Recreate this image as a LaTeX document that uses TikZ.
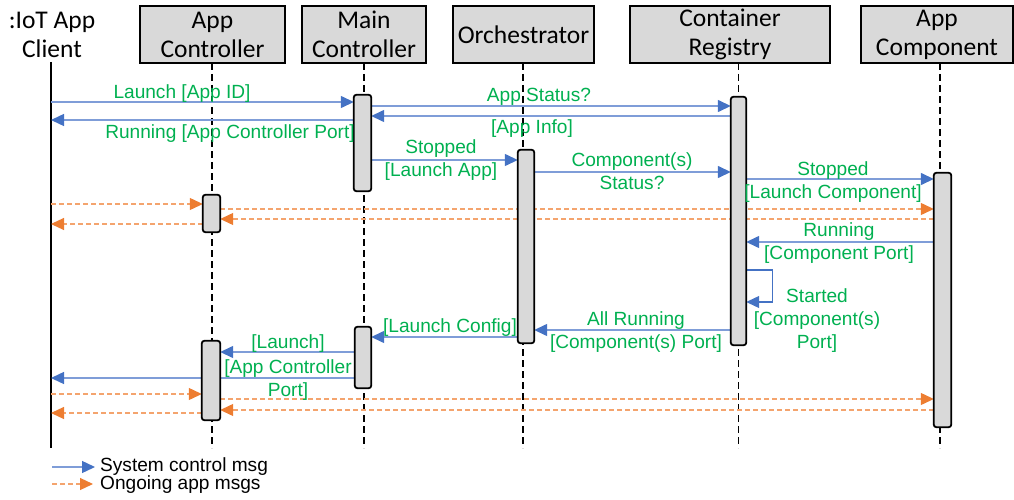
\documentclass[tikz,border=0pt]{standalone}
\usepackage{fontspec}
\setmainfont{Liberation Sans}
\newfontfamily\hdrfont{Carlito}
\usetikzlibrary{arrows.meta}
\definecolor{ctlblue}{HTML}{4472C4}
\definecolor{ctlline}{HTML}{7F9DD8}
\definecolor{apporange}{HTML}{ED7D31}
\definecolor{appline}{HTML}{F4A46E}
\definecolor{lblgreen}{HTML}{00B050}
\definecolor{boxgray}{HTML}{D9D9D9}
\tikzset{
  hdr/.style={draw=black, line width=1.8pt, fill=boxgray, inner sep=0pt,
    font=\hdrfont\fontsize{25.5}{29}\selectfont, align=center},
  clienthdr/.style={inner sep=0pt, font=\hdrfont\fontsize{25.5}{29}\selectfont, align=center},
  lifeline/.style={draw=black, line width=1.2pt, dash pattern=on 7pt off 4pt},
  clientline/.style={draw=black, line width=1.2pt},
  act/.style={draw=black, line width=1.8pt, fill=boxgray, rounded corners=2.5pt,
    minimum width=16pt, inner sep=0pt},
  ctl/.style={draw=ctlline, line width=1.4pt,
    -{Triangle[length=13pt,width=12pt,color=ctlblue]}},
  ongoing/.style={draw=appline, line width=1.2pt, dash pattern=on 5pt off 3pt,
    -{Triangle[length=13pt,width=12pt,color=apporange]}},
  lbl/.style={text=lblgreen, font=\fontsize{19.1}{23}\selectfont, align=center, inner sep=0pt},
  legendtxt/.style={text=black, font=\fontsize{19.1}{17}\selectfont, anchor=west, inner sep=0pt},
}
\begin{document}
\begin{tikzpicture}[x=1pt, y=-1pt]
\useasboundingbox (0,0) rectangle (1014,500);

% participants
\node[clienthdr] (hcl) at (52,35) {:IoT App\\Client};
\node[hdr, minimum width=145pt, minimum height=57pt] (hac) at (212.5,34.5) {App\\Controller};
\node[hdr, minimum width=124pt, minimum height=57pt] (hmc) at (364,34.5) {Main\\Controller};
\node[hdr, minimum width=141pt, minimum height=57pt] (hor) at (523.5,34.5) {Orchestrator};
\node[hdr, minimum width=200pt, minimum height=57pt] (hcr) at (730,34.5) {Container\\Registry};
\node[hdr, minimum width=152pt, minimum height=57pt] (hco) at (937,34.5) {App\\Component};

% lifelines
\coordinate (clt) at (51,62);  \coordinate (clb) at (51,448);
\coordinate (act) at (212,63); \coordinate (acb) at (212,448);
\coordinate (mct) at (364,63); \coordinate (mcb) at (364,448);
\coordinate (ort) at (523,63); \coordinate (orb) at (523,448);
\coordinate (crt) at (738.5,63); \coordinate (crb) at (738.5,448);
\coordinate (cot) at (940,63); \coordinate (cob) at (940,448);
\draw[clientline] (clt) -- (clb);
\draw[lifeline] (act) -- (acb);
\draw[lifeline] (mct) -- (mcb);
\draw[lifeline] (ort) -- (orb);
\draw[lifeline] (crt) -- (crb);
\draw[lifeline] (cot) -- (cob);

% activation bars (positions only; drawn later on top of the messages)
\path (362.5,143) node[minimum width=17pt, minimum height=96pt, inner sep=0pt] (mc1) {};
\path (738.5,221) node[minimum width=15pt, minimum height=248pt, inner sep=0pt] (cr) {};
\path (526,246.5) node[minimum width=16pt, minimum height=193pt, inner sep=0pt] (orc) {};
\path (211.5,213.5) node[minimum width=17pt, minimum height=37pt, inner sep=0pt] (ac1) {};
\path (942.5,300) node[minimum width=17pt, minimum height=254pt, inner sep=0pt] (cmp) {};
\path (363,357.5) node[minimum width=16pt, minimum height=61pt, inner sep=0pt] (mc2) {};
\path (211,380.5) node[minimum width=18pt, minimum height=79pt, inner sep=0pt] (ac2) {};

% system control messages
\draw[ctl] (clt |- 0,102) -- (mc1.west |- 0,102);
\draw[ctl] (mc1.west |- 0,120) -- (clt |- 0,120);
\draw[ctl] (mc1.east |- 0,106) -- (cr.west |- 0,106);
\draw[ctl] (cr.west |- 0,116) -- (mc1.east |- 0,116);
\draw[ctl] (mc1.east |- 0,160) -- (orc.west |- 0,160);
\draw[ctl] (orc.east |- 0,172) -- (cr.west |- 0,172);
\draw[ctl] (cr.east |- 0,179) -- (cmp.west |- 0,179);
\draw[ctl] (cmp.west |- 0,242) -- (cr.east |- 0,242);
\draw[draw=ctlblue, line width=1.1pt, -{Triangle[length=13pt,width=12pt,color=ctlblue]}]
  (cr.east |- 0,270) -- ++(26,0) |- (cr.east |- 0,302);
\draw[ctl] (cr.west |- 0,330) -- (orc.east |- 0,330);
\draw[ctl] (orc.west |- 0,337) -- (mc2.east |- 0,337);
\draw[ctl] (mc2.west |- 0,352) -- (ac2.east |- 0,352);
\draw[ctl] (mc2.west |- 0,378) -- (clt |- 0,378);

% ongoing application traffic
\draw[ongoing] (clt |- 0,204) -- (ac1.west |- 0,204);
\draw[ongoing] (ac1.east |- 0,209) -- (cmp.west |- 0,209);
\draw[ongoing] (cmp.west |- 0,219) -- (ac1.east |- 0,219);
\draw[ongoing] (ac1.west |- 0,224) -- (clt |- 0,224);
\draw[ongoing] (clt |- 0,394) -- (ac2.west |- 0,394);
\draw[ongoing] (ac2.east |- 0,399) -- (cmp.west |- 0,399);
\draw[ongoing] (cmp.west |- 0,410) -- (ac2.east |- 0,410);
\draw[ongoing] (ac2.west |- 0,413) -- (clt |- 0,413);

% activation bars
\foreach \b in {mc1,cr,orc,ac1,cmp,mc2,ac2}
  \draw[act] (\b.south west) rectangle (\b.north east);

% message labels
\node[lbl] (l1) at (182,93.5) {Launch [App ID]};
\node[lbl] (l2) at (230,133.5) {Running [App Controller Port]};
\node[lbl] (l3) at (539,96.5) {App Status?};
\node[lbl] (l4) at (532,128.5) {[App Info]};
\node[lbl] (l5) at (441,160.5) {Stopped\\{}[Launch App]};
\node[lbl] (l6) at (632,171.5) {Component(s)\\Status?};
\node[lbl] (l7) at (833,182.5) {Stopped\\{}[Launch Component]};
\node[lbl] (l8) at (839,243.5) {Running\\{}[Component Port]};
\node[lbl] (l9) at (817,320.5) {Started\\{}[Component(s)\\Port]};
\node[lbl] (l10) at (636,332.5) {All Running\\{}[Component(s) Port]};
\node[lbl] (l11) at (450,327.5) {[Launch Config]};
\node[lbl] (l12) at (288,343.5) {[Launch]};
\node[lbl] (l13) at (288,380.5) {[App Controller\\Port]};

% legend
\coordinate (lga) at (52,467); \coordinate (lgb) at (95,467);
\coordinate (lgc) at (52,484); \coordinate (lgd) at (93,484);
\draw[ctl] (lga) -- (lgb);
\draw[ongoing] (lgc) -- (lgd);
\node[legendtxt] (lt1) at (100,467) {System control msg};
\node[legendtxt] (lt2) at (100,485) {Ongoing app msgs};
\end{tikzpicture}
\end{document}
